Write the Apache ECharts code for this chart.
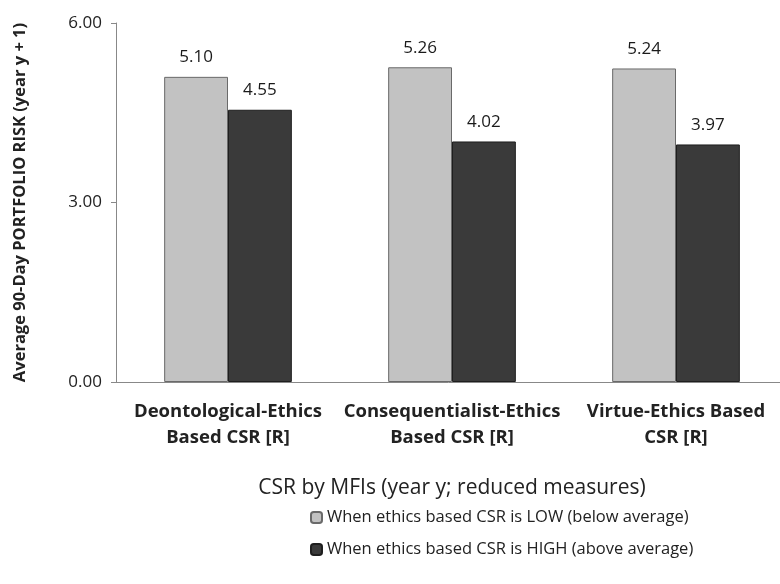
<!DOCTYPE html>
<html><head><meta charset="utf-8">
<script src="https://cdn.jsdelivr.net/npm/echarts@6/dist/echarts.min.js"></script>
<style>html,body{margin:0;padding:0;background:#fff}#c{width:780px;height:584px}</style>
</head><body><div id="c"></div>
<script>
const categories = ['Deontological-Ethics\nBased CSR [R]', 'Consequentialist-Ethics\nBased CSR [R]', 'Virtue-Ethics Based\nCSR [R]'];
const lowValues = [5.10, 5.26, 5.24];
const highValues = [4.55, 4.02, 3.97];
const seriesNames = ['When ethics based CSR is LOW (below average)', 'When ethics based CSR is HIGH (above average)'];
const yTicks = [0, 3, 6];

const font = '"Open Sans", "Liberation Sans", sans-serif';
const chart = echarts.init(document.getElementById('c'));
chart.setOption({
  animation: false,
  textStyle: { fontFamily: font },
  grid: { left: 116, width: 672, top: 23, bottom: 202, outerBoundsMode: 'none', containLabel: false },
  legend: {
    orient: 'vertical', left: 305, top: 504, itemGap: 15,
    itemWidth: 11, itemHeight: 11,
    textStyle: { fontFamily: font, fontSize: 16.5, color: '#222' },
    data: seriesNames
  },
  xAxis: {
    type: 'category', data: categories,
    name: 'CSR by MFIs (year y; reduced measures)', nameLocation: 'middle', nameGap: 96,
    nameTextStyle: { fontFamily: font, fontSize: 21, color: '#222' },
    axisLine: { lineStyle: { color: '#888' } }, axisTick: { show: false },
    axisLabel: { fontFamily: font, fontSize: 18.5, fontWeight: 'bold', color: '#222', lineHeight: 26, margin: 17, interval: 0 }
  },
  yAxis: {
    type: 'value', min: 0, max: 6, interval: 3,
    name: 'Average 90-Day PORTFOLIO RISK (year y + 1)', nameLocation: 'middle', nameGap: 87, nameRotate: 90,
    nameTextStyle: { fontFamily: font, fontSize: 16.5, fontWeight: 'bold', color: '#222' },
    axisLine: { show: true, lineStyle: { color: '#888' } },
    axisTick: { show: true, length: 5, lineStyle: { color: '#888' } },
    splitLine: { show: false },
    axisLabel: { fontFamily: font, fontSize: 17, color: '#222', margin: 14, formatter: v => v.toFixed(2) }
  },
  series: [
    { name: seriesNames[0], type: 'bar', data: lowValues, barGap: '0%', barCategoryGap: '43%',
      itemStyle: { color: '#c2c2c2', borderColor: '#6a6a6a', borderWidth: 1 },
      label: { show: true, position: 'top', distance: 11, fontFamily: font, fontSize: 17, color: '#1a1a1a', formatter: p => p.value.toFixed(2) } },
    { name: seriesNames[1], type: 'bar', data: highValues,
      itemStyle: { color: '#3a3a3a', borderColor: '#1e1e1e', borderWidth: 1 },
      label: { show: true, position: 'top', distance: 11, fontFamily: font, fontSize: 17, color: '#1a1a1a', formatter: p => p.value.toFixed(2) } }
  ]
});
</script></body></html>
